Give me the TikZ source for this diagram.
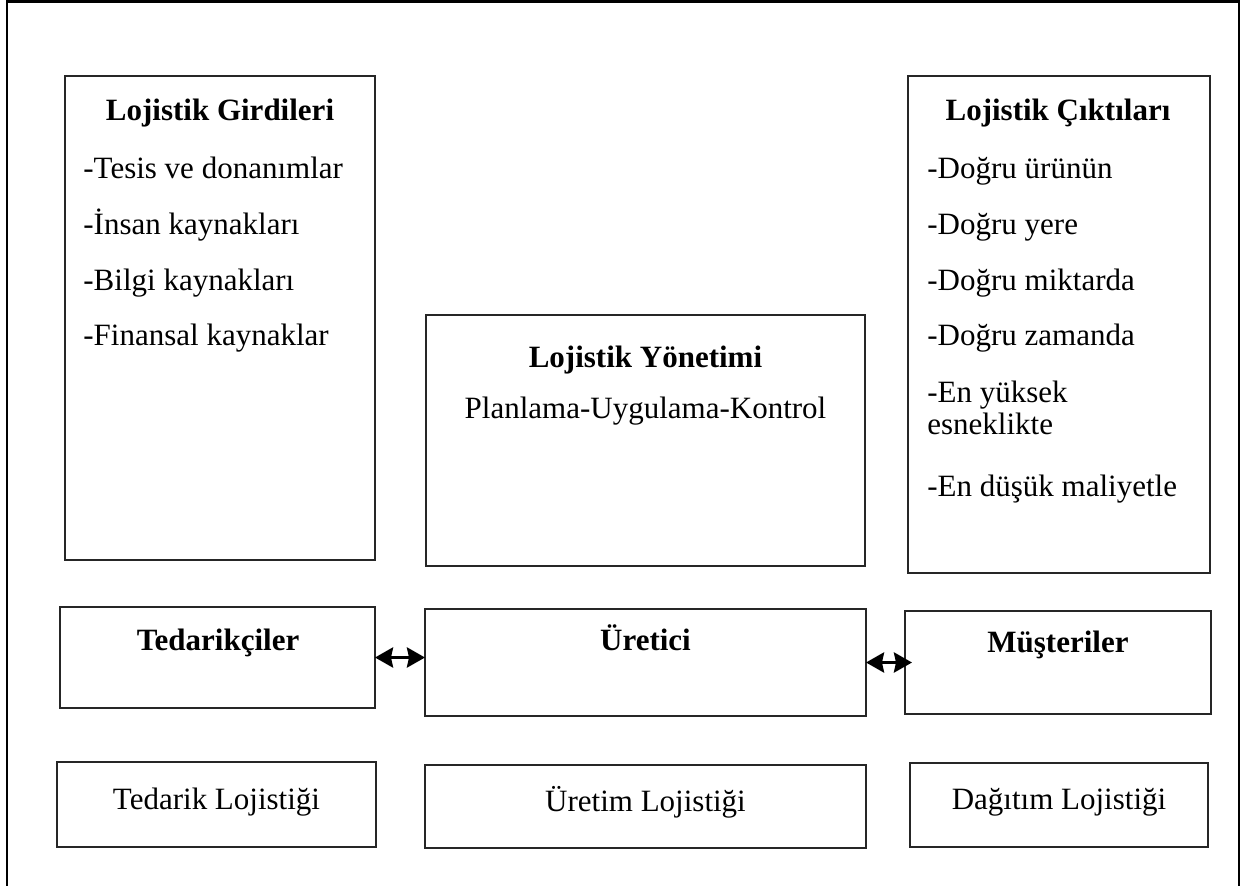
\documentclass[tikz,border=0pt]{standalone}
\usepackage{fontspec}
\setmainfont{Liberation Serif}
\usetikzlibrary{arrows.meta}
\begin{document}
\begin{tikzpicture}[x=0.5pt,y=-0.5pt,
  box/.style={draw=black!85,line width=0.6pt,inner sep=0pt,outer sep=0pt},
  txt/.style={font=\fontsize{15.5}{18}\selectfont,inner sep=0pt,anchor=base},
  ltxt/.style={txt,anchor=base west},
  head/.style={txt,font=\fontsize{15.5}{18}\selectfont\bfseries},
  tip/.tip={Stealth[length=9pt,width=10pt,inset=1pt]},
  link/.style={line width=1.7pt,tip-tip}]
\useasboundingbox (0,0) rectangle (1255,885);
% outer frame, open at the bottom
\draw[line width=1.2pt] (7,890) -- (7,1.5) -- (1239,1.5) -- (1239,890);

% upper boxes
\node[box,minimum width=155pt,minimum height=242pt] (inp) at (220,318) {};
\node[box,minimum width=219.5pt,minimum height=125.5pt] (mgmt) at (645.5,440.5) {};
\node[box,minimum width=151pt,minimum height=248.5pt] (outp) at (1059,324.5) {};

% actors
\node[box,minimum width=157.5pt,minimum height=50.5pt] (ted) at (217.5,657.5) {};
\node[box,minimum width=220.5pt,minimum height=53.5pt] (uret) at (645.5,662.5) {};
\node[box,minimum width=153pt,minimum height=51.5pt] (mus) at (1058,662.5) {};

% logistics stages
\node[box,minimum width=159.5pt,minimum height=42.5pt] (tl) at (216.5,804.5) {};
\node[box,minimum width=220.5pt,minimum height=41.5pt] (ul) at (645.5,806.5) {};
\node[box,minimum width=149pt,minimum height=42pt] (dl) at (1059,805) {};

% texts of the inputs box
\node[head] (inpT) at (220,120) {Lojistik Girdileri};
\node[ltxt] (inp1) at (83,178) {-Tesis ve donanımlar};
\node[ltxt] (inp2) at (83,234) {-İnsan kaynakları};
\node[ltxt] (inp3) at (83,290) {-Bilgi kaynakları};
\node[ltxt] (inp4) at (83,345) {-Finansal kaynaklar};

% texts of the management box
\node[head] (mgmtT) at (645.5,367) {Lojistik Yönetimi};
\node[txt] (mgmt1) at (645.5,418) {Planlama-Uygulama-Kontrol};

% texts of the outputs box
\node[head] (outpT) at (1058,120) {Lojistik Çıktıları};
\node[ltxt] (out1) at (927,178) {-Doğru ürünün};
\node[ltxt] (out2) at (927,234) {-Doğru yere};
\node[ltxt] (out3) at (927,290) {-Doğru miktarda};
\node[ltxt] (out4) at (927,345) {-Doğru zamanda};
\node[ltxt] (out5) at (927,402) {-En yüksek};
\node[ltxt] (out6) at (927,434) {esneklikte};
\node[ltxt] (out7) at (927,496) {-En düşük maliyetle};

% actor labels
\node[head] (tedT) at (218,650) {Tedarikçiler};
\node[head] (uretT) at (645.5,650) {Üretici};
\node[head] (musT) at (1058,652) {Müşteriler};

% stage labels
\node[txt] (tlT) at (216.5,809) {Tedarik Lojistiği};
\node[txt] (ulT) at (645.5,811) {Üretim Lojistiği};
\node[txt] (dlT) at (1059,809) {Dağıtım Lojistiği};

% flows between the actors
\draw[link] (ted.east) -- (ted.east -| uret.west);
\draw[link,shorten >=-3.5pt] (mus.west -| uret.east) -- (mus.west);
\end{tikzpicture}
\end{document}
